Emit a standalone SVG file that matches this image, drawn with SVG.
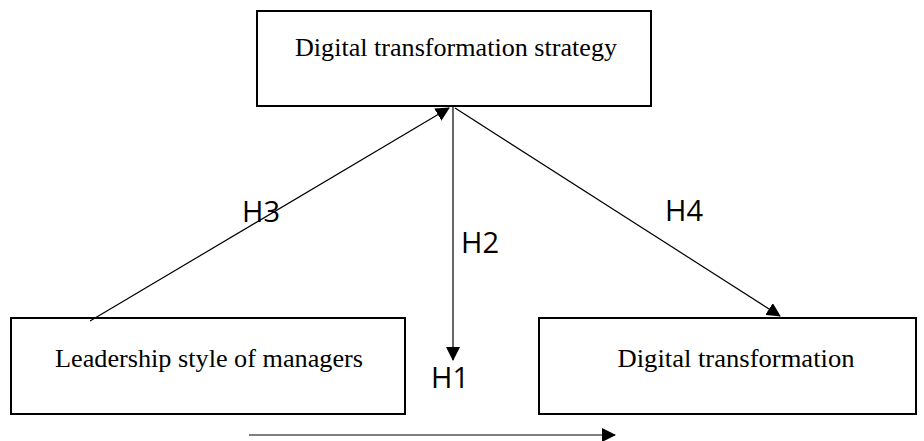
<svg xmlns="http://www.w3.org/2000/svg" width="924" height="441" viewBox="0 0 924 441">
<defs>
<marker id="ahb" markerWidth="14" markerHeight="14" refX="13" refY="7" orient="auto" markerUnits="userSpaceOnUse" viewBox="0 0 14 14">
<path d="M0,0 L14,7 L0,14 z" fill="#000"/>
</marker>
</defs>
<style>
.box{fill:#fff;stroke:#000;stroke-width:2}
.t{font-family:"Liberation Serif","Times New Roman",serif;font-size:24.5px;fill:#000;text-anchor:middle}
.h{font-family:"Open Sans","Liberation Sans",Arial,sans-serif;font-size:29px;fill:#000}
.c{stroke:#000;stroke-width:1.2;fill:none}
</style>
<rect width="924" height="441" fill="#fff"/>
<g id="n-strategy">
<rect class="box" x="257" y="11" width="394" height="95"/>
<text class="t" x="456" y="56" textLength="322" lengthAdjust="spacingAndGlyphs">Digital transformation strategy</text>
</g>
<g id="n-leadership">
<rect class="box" x="11" y="318" width="394" height="96"/>
<text class="t" x="209" y="367" textLength="308" lengthAdjust="spacingAndGlyphs">Leadership style of managers</text>
</g>
<g id="n-digital">
<rect class="box" x="539" y="318" width="377" height="96"/>
<text class="t" x="736" y="367" textLength="237" lengthAdjust="spacingAndGlyphs">Digital transformation</text>
</g>
<g id="connectors">
<line class="c" x1="90" y1="321" x2="449" y2="108" marker-end="url(#ahb)"/>
<line class="c" x1="453" y1="107" x2="453" y2="360" marker-end="url(#ahb)"/>
<line class="c" x1="455" y1="108" x2="780" y2="316" marker-end="url(#ahb)"/>
<line class="c" x1="249" y1="435" x2="615" y2="435" marker-end="url(#ahb)"/>
</g>
<g id="labels">
<text class="h" x="242" y="222">H3</text>
<text class="h" x="461" y="253">H2</text>
<text class="h" x="665" y="221">H4</text>
<text class="h" x="431" y="388">H1</text>
</g>
</svg>
